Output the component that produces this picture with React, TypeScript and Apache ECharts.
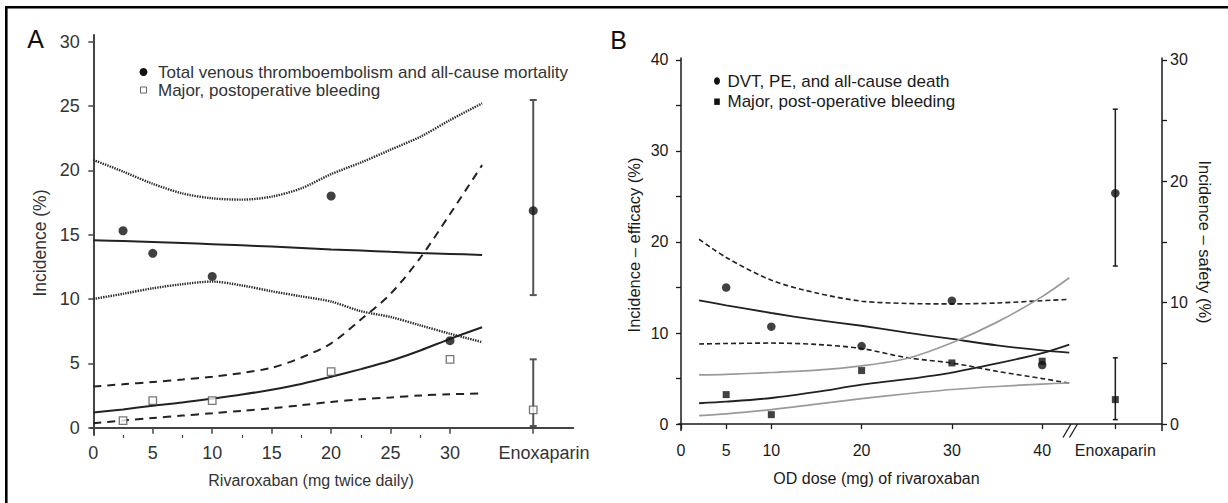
import React, { useEffect, useRef } from "react";
import * as echarts from "echarts";

// ---------- Panel A data ----------
const aDoses = [2.5, 5, 10, 20, 30];
const aEfficacy = [15.3, 13.55, 11.75, 18.0, 6.76];
const aBleeding = [0.55, 2.1, 2.1, 4.35, 5.3];
const aEnoxX = 37;
const aEnoxLabelX = 37.9;
const aEnoxEfficacy = [16.86, 10.3, 25.46]; // value, low, high
const aEnoxBleeding = [1.38, 0.13, 5.31];
const aCurveX = [0, 2.5, 5, 7.5, 10, 12.5, 15, 17.5, 20, 22.5, 25, 27.5, 30, 32.7];
const aEffFit = [14.57, 14.5, 14.42, 14.34, 14.26, 14.17, 14.07, 13.96, 13.85, 13.76, 13.66, 13.57, 13.5, 13.42];
const aEffUpper = [20.8, 19.9, 18.95, 18.2, 17.82, 17.72, 17.95, 18.6, 19.7, 20.6, 21.6, 22.6, 23.9, 25.2];
const aEffLower = [10.0, 10.4, 10.83, 11.15, 11.35, 11.05, 10.6, 10.2, 9.8, 9.05, 8.6, 7.95, 7.3, 6.65];
const aBleedFit = [1.17, 1.42, 1.7, 1.95, 2.25, 2.57, 2.95, 3.4, 3.95, 4.55, 5.2, 6.0, 6.9, 7.8];
const aBleedUpper = [3.2, 3.37, 3.55, 3.74, 3.95, 4.25, 4.65, 5.45, 6.55, 8.4, 10.4, 13.2, 16.6, 20.4];
const aBleedLower = [0.35, 0.55, 0.75, 0.94, 1.12, 1.31, 1.5, 1.75, 2.0, 2.2, 2.35, 2.5, 2.6, 2.65];
const aXTicks = [0, 5, 10, 15, 20, 25, 30, 37];
const aXMinorTicks = [2.5, 7.5, 12.5, 17.5, 22.5, 27.5];
const aXLabels = [0, 5, 10, 15, 20, 25, 30];
const aYTicks = [0, 5, 10, 15, 20, 25, 30];

// ---------- Panel B data ----------
const bDoses = [5, 10, 20, 30, 40];
const bEfficacy = [15.0, 10.7, 8.57, 13.55, 6.48];
const bBleeding = [2.43, 0.78, 4.41, 5.04, 5.18];
const bEnoxX = 48.1;
const bEnoxEfficacy = [25.35, 17.36, 34.58];
const bEnoxBleeding = [2.02, 0.37, 5.46];
const bCurveX = [2, 5, 10, 15, 20, 25, 30, 35, 40, 43];
const bEffFit = [13.6, 13.05, 12.2, 11.45, 10.8, 10.05, 9.35, 8.65, 8.1, 7.85];
const bEffUpper = [20.3, 18.3, 15.8, 14.4, 13.5, 13.25, 13.2, 13.3, 13.55, 13.7];
const bEffLower = [8.8, 8.85, 8.9, 8.75, 8.3, 7.3, 6.7, 5.8, 5.0, 4.5];
const bBleedFit = [1.72, 1.85, 2.15, 2.65, 3.25, 3.7, 4.25, 5.0, 5.85, 6.55];
const bBleedUpper = [4.05, 4.1, 4.25, 4.45, 4.8, 5.4, 6.7, 8.4, 10.5, 12.05];
const bBleedLower = [0.7, 0.85, 1.2, 1.65, 2.1, 2.5, 2.85, 3.1, 3.3, 3.4];
const bXTicks = [0, 5, 10, 20, 30, 40, 48.1];
const bLeftTicks = [0, 5, 10, 15, 20, 25, 30, 35, 40];
const bLeftLabels = [0, 10, 20, 30, 40];
const bRightTicks = [0, 5, 10, 15, 20, 25, 30];
const bRightLabels = [0, 10, 20, 30];

const FONT = '"Liberation Sans", Arial, Helvetica, sans-serif';

const zip = (xs: number[], ys: number[]) => xs.map((x, i) => [x, ys[i]]);

function errorBar(color: string, width: number, cap: number) {
  return (params: any, api: any) => {
    const x = api.value(0);
    const lo = api.value(1);
    const hi = api.value(2);
    const top = api.coord([x, hi]);
    const bot = api.coord([x, lo]);
    const style = { stroke: color, lineWidth: width };
    return {
      type: "group",
      children: [
        { type: "line", shape: { x1: top[0], y1: top[1], x2: bot[0], y2: bot[1] }, style },
        { type: "line", shape: { x1: top[0] - cap, y1: top[1], x2: top[0] + cap, y2: top[1] }, style },
        { type: "line", shape: { x1: bot[0] - cap, y1: bot[1], x2: bot[0] + cap, y2: bot[1] }, style },
      ],
    };
  };
}

function lineSeries(xi: number, yi: number, xs: number[], ys: number[], color: string, width: number, type: any) {
  return {
    type: "line",
    xAxisIndex: xi,
    yAxisIndex: yi,
    data: zip(xs, ys),
    showSymbol: false,
    smooth: 0.3,
    silent: true,
    lineStyle: { color, width, type },
    z: 2,
  };
}

export default function App() {
  const ref = useRef<HTMLDivElement>(null);
  useEffect(() => {
    if (!ref.current) return;
    const chart = echarts.init(ref.current, undefined, { renderer: "svg" });
    const axA = "#444";
    const axB = "#1a1a1a";
    const option: any = {
      animation: false,
      backgroundColor: "#fff",
      grid: [
        { left: 90.7, top: 35, width: 482.6, height: 400 },
        { left: 678.5, top: 58, width: 483.5, height: 372.5 },
      ],
      xAxis: [
        {
          gridIndex: 0, type: "value", position: "bottom", min: -0.22, max: 40.37,
          axisLine: { show: true, lineStyle: { color: axA, width: 2 } },
          axisTick: { show: true, customValues: aXTicks, length: 6, lineStyle: { color: axA, width: 1.5 } },
          axisLabel: {
            customValues: [...aXLabels, aEnoxLabelX],
            formatter: (v: number) => (v === aEnoxLabelX ? "Enoxaparin" : String(v)),
            fontSize: 18, color: "#333", fontFamily: FONT, margin: 9,
          },
          splitLine: { show: false },
        },
        {
          gridIndex: 0, type: "value", position: "bottom", min: -0.22, max: 40.37,
          axisLine: { show: false, onZero: false },
          axisTick: { show: true, customValues: aXMinorTicks, length: 3, lineStyle: { color: axA, width: 1.2 } },
          axisLabel: { show: false },
          splitLine: { show: false },
        },
        {
          gridIndex: 1, type: "value", position: "bottom", min: -0.28, max: 53.27,
          axisLine: { show: true, lineStyle: { color: axB, width: 1.5 } },
          axisTick: { show: true, customValues: bXTicks, length: 5, lineStyle: { color: axB, width: 1.3 } },
          axisLabel: {
            customValues: bXTicks,
            formatter: (v: number) => (v === bEnoxX ? "Enoxaparin" : String(v)),
            fontSize: 16, color: "#1a1a1a", fontFamily: FONT, margin: 12,
          },
          splitLine: { show: false },
        },
      ],
      yAxis: [
        {
          gridIndex: 0, type: "value", min: -0.57, max: 30.51,
          axisLine: { show: true, lineStyle: { color: axA, width: 2 } },
          axisTick: { show: true, customValues: aYTicks, length: 5, lineStyle: { color: axA, width: 1.5 } },
          axisLabel: { customValues: aYTicks, fontSize: 18, color: "#333", fontFamily: FONT, margin: 11 },
          splitLine: { show: false },
        },
        {
          gridIndex: 1, type: "value", min: -0.7, max: 40.2,
          axisLine: { show: true, lineStyle: { color: axB, width: 1.5 } },
          axisTick: { show: true, customValues: bLeftTicks, length: 5, lineStyle: { color: axB, width: 1.3 } },
          axisLabel: { customValues: bLeftLabels, fontSize: 16, color: "#1a1a1a", fontFamily: FONT, margin: 10 },
          splitLine: { show: false },
        },
        {
          gridIndex: 1, type: "value", position: "right", min: -0.525, max: 30.15,
          axisLine: { show: true, lineStyle: { color: axB, width: 1.5 } },
          axisTick: { show: true, customValues: bRightTicks, length: 5, lineStyle: { color: axB, width: 1.3 } },
          axisLabel: { customValues: bRightLabels, fontSize: 16, color: "#1a1a1a", fontFamily: FONT, margin: 8 },
          splitLine: { show: false },
        },
      ],
      series: [
        // Panel A curves
        lineSeries(0, 0, aCurveX, aEffFit, "#222", 2, "solid"),
        lineSeries(0, 0, aCurveX, aEffUpper, "#2a2a2a", 2.4, [1.4, 1.1]),
        lineSeries(0, 0, aCurveX, aEffLower, "#2a2a2a", 2.4, [1.4, 1.1]),
        lineSeries(0, 0, aCurveX, aBleedFit, "#222", 2, "solid"),
        lineSeries(0, 0, aCurveX, aBleedUpper, "#222", 2, [8, 6]),
        lineSeries(0, 0, aCurveX, aBleedLower, "#222", 2, [8, 6]),
        {
          type: "custom", xAxisIndex: 0, yAxisIndex: 0,
          renderItem: errorBar("#555", 2, 3.5),
          encode: { x: 0, y: [1, 2] },
          data: [
            [aEnoxX, aEnoxEfficacy[1], aEnoxEfficacy[2]],
            [aEnoxX, aEnoxBleeding[1], aEnoxBleeding[2]],
          ],
          z: 3,
        },
        {
          type: "scatter", xAxisIndex: 0, yAxisIndex: 0, symbol: "circle", symbolSize: 9,
          itemStyle: { color: "#111" },
          data: [...zip(aDoses, aEfficacy), [aEnoxX, aEnoxEfficacy[0]]],
          z: 5,
        },
        {
          type: "scatter", xAxisIndex: 0, yAxisIndex: 0, symbol: "rect", symbolSize: 7.5,
          itemStyle: { color: "#fff", borderColor: "#555", borderWidth: 1.3 },
          data: [...zip(aDoses, aBleeding), [aEnoxX, aEnoxBleeding[0]]],
          z: 5,
        },
        // Panel B curves
        lineSeries(2, 1, bCurveX, bEffFit, "#222", 1.8, "solid"),
        lineSeries(2, 1, bCurveX, bEffUpper, "#222", 1.6, [5, 3]),
        lineSeries(2, 1, bCurveX, bEffLower, "#222", 1.6, [5, 3]),
        lineSeries(2, 2, bCurveX, bBleedFit, "#222", 1.8, "solid"),
        lineSeries(2, 2, bCurveX, bBleedUpper, "#9a9a9a", 1.7, "solid"),
        lineSeries(2, 2, bCurveX, bBleedLower, "#9a9a9a", 1.7, "solid"),
        {
          type: "custom", xAxisIndex: 2, yAxisIndex: 1,
          renderItem: errorBar("#1a1a1a", 1.5, 2.5),
          encode: { x: 0, y: [1, 2] },
          data: [[bEnoxX, bEnoxEfficacy[1], bEnoxEfficacy[2]]],
          z: 3,
        },
        {
          type: "custom", xAxisIndex: 2, yAxisIndex: 2,
          renderItem: errorBar("#1a1a1a", 1.5, 2.5),
          encode: { x: 0, y: [1, 2] },
          data: [[bEnoxX, bEnoxBleeding[1], bEnoxBleeding[2]]],
          z: 3,
        },
        {
          type: "scatter", xAxisIndex: 2, yAxisIndex: 1, symbol: "circle", symbolSize: 8.5,
          itemStyle: { color: "#111" },
          data: [...zip(bDoses, bEfficacy), [bEnoxX, bEnoxEfficacy[0]]],
          z: 5,
        },
        {
          type: "scatter", xAxisIndex: 2, yAxisIndex: 2, symbol: "rect", symbolSize: 7,
          itemStyle: { color: "#111" },
          data: [...zip(bDoses, bBleeding), [bEnoxX, bEnoxBleeding[0]]],
          z: 5,
        },
      ],
      graphic: [
        // frame
        { type: "line", shape: { x1: 5, y1: 7.2, x2: 1228, y2: 7.2 }, style: { stroke: "#000", lineWidth: 2.6 } },
        { type: "line", shape: { x1: 6.3, y1: 6, x2: 6.3, y2: 503 }, style: { stroke: "#000", lineWidth: 2.6 } },
        // panel letters
        { type: "text", style: { text: "A", x: 35.5, y: 39, textAlign: "center", textVerticalAlign: "middle", fontSize: 25, fontFamily: FONT, fill: "#111" } },
        { type: "text", style: { text: "B", x: 618.5, y: 39.5, textAlign: "center", textVerticalAlign: "middle", fontSize: 25, fontFamily: FONT, fill: "#111" } },
        // axis names A
        { type: "text", style: { text: "Rivaroxaban (mg twice daily)", x: 311, y: 480, textAlign: "center", textVerticalAlign: "middle", fontSize: 16, fontFamily: FONT, fill: "#333" } },
        { type: "text", x: 39.5, y: 243, rotation: Math.PI / 2, style: { text: "Incidence (%)", x: 0, y: 0, textAlign: "center", textVerticalAlign: "middle", fontSize: 17.5, fontFamily: FONT, fill: "#333" } },
        // axis names B
        { type: "text", style: { text: "OD dose (mg) of rivaroxaban", x: 876.5, y: 478, textAlign: "center", textVerticalAlign: "middle", fontSize: 16, fontFamily: FONT, fill: "#1a1a1a" } },
        { type: "text", x: 634, y: 245, rotation: Math.PI / 2, style: { text: "Incidence – efficacy (%)", x: 0, y: 0, textAlign: "center", textVerticalAlign: "middle", fontSize: 16.5, fontFamily: FONT, fill: "#1a1a1a" } },
        { type: "text", x: 1205, y: 242, rotation: -Math.PI / 2, style: { text: "Incidence – safety (%)", x: 0, y: 0, textAlign: "center", textVerticalAlign: "middle", fontSize: 16.5, fontFamily: FONT, fill: "#1a1a1a" } },
        // legend A
        { type: "circle", shape: { cx: 143.5, cy: 72, r: 4 }, style: { fill: "#111" } },
        { type: "text", style: { text: "Total venous thromboembolism and all-cause mortality", x: 158, y: 72, textAlign: "left", textVerticalAlign: "middle", fontSize: 17, fontFamily: FONT, fill: "#333" } },
        { type: "rect", shape: { x: 140.5, y: 87, width: 6, height: 6 }, style: { fill: "#fff", stroke: "#666", lineWidth: 1 } },
        { type: "text", style: { text: "Major, postoperative bleeding", x: 158, y: 90, textAlign: "left", textVerticalAlign: "middle", fontSize: 17, fontFamily: FONT, fill: "#333" } },
        // legend B
        { type: "ellipse", shape: { cx: 717, cy: 81, rx: 3, ry: 3.8 }, style: { fill: "#111" } },
        { type: "text", style: { text: "DVT, PE, and all-cause death", x: 727.5, y: 81, textAlign: "left", textVerticalAlign: "middle", fontSize: 17, fontFamily: FONT, fill: "#1a1a1a" } },
        { type: "rect", shape: { x: 714.2, y: 98.5, width: 5.6, height: 6.4 }, style: { fill: "#111" } },
        { type: "text", style: { text: "Major, post-operative bleeding", x: 727.5, y: 101.7, textAlign: "left", textVerticalAlign: "middle", fontSize: 17, fontFamily: FONT, fill: "#1a1a1a" } },
        // axis break on B x-axis
        { type: "rect", z: 100, shape: { x: 1067.5, y: 427, width: 8, height: 7 }, style: { fill: "#fff" } },
        { type: "line", z: 101, shape: { x1: 1063, y1: 437.5, x2: 1071, y2: 424 }, style: { stroke: "#1a1a1a", lineWidth: 1.3 } },
        { type: "line", z: 101, shape: { x1: 1069.5, y1: 437.5, x2: 1077.5, y2: 424 }, style: { stroke: "#1a1a1a", lineWidth: 1.3 } },
      ],
    };
    chart.setOption(option);
    return () => chart.dispose();
  }, []);
  return (
    <div
      ref={ref}
      style={{ position: "absolute", left: 0, top: 0, width: 1228, height: 503, background: "#fff" }}
    />
  );
}
